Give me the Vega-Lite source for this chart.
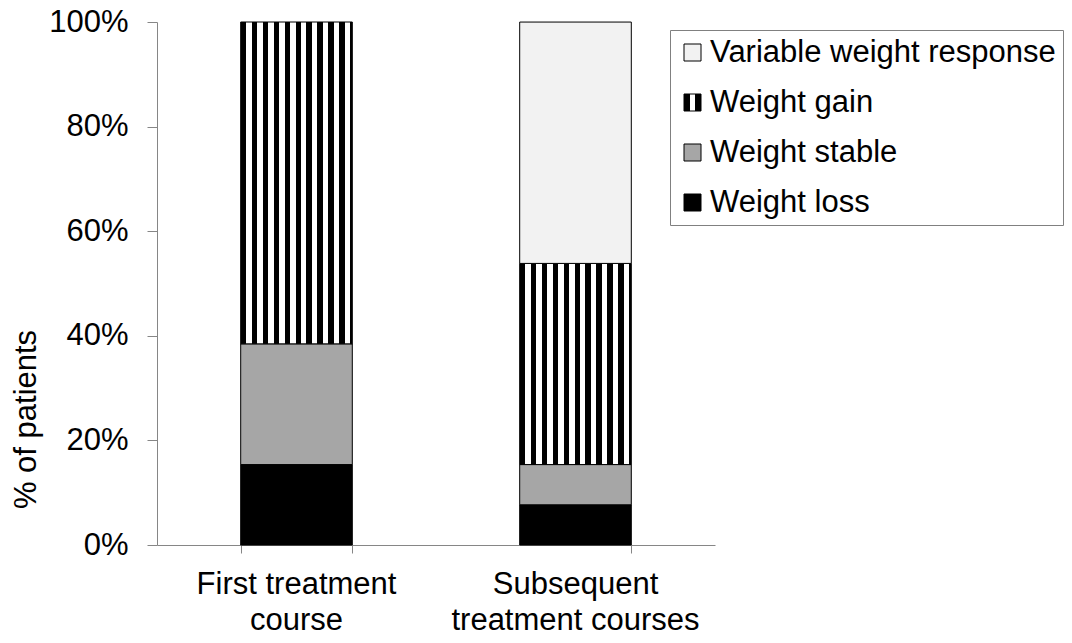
{
  "$schema": "https://vega.github.io/schema/vega-lite/v6.json",
  "width": 558,
  "height": 523,
  "autosize": "none",
  "padding": {"left": 157, "top": 22, "right": 357, "bottom": 98},
  "background": "white",
  "config": {
    "view": {"stroke": null},
    "font": "Liberation Sans",
    "axis": {"labelColor": "black", "titleColor": "black", "domainColor": "#868686", "tickColor": "#868686", "grid": false, "labelFont": "Liberation Sans", "titleFont": "Liberation Sans"},
    "legend": {"labelFont": "Liberation Sans", "labelColor": "black"}
  },
  "data": {
    "values": [
      {"course": "First treatment course", "category": "Weight loss", "rank": 1, "share": 0.1538},
      {"course": "First treatment course", "category": "Weight stable", "rank": 2, "share": 0.2308},
      {"course": "First treatment course", "category": "Weight gain", "rank": 3, "share": 0.6154},
      {"course": "Subsequent treatment courses", "category": "Weight loss", "rank": 1, "share": 0.0769},
      {"course": "Subsequent treatment courses", "category": "Weight stable", "rank": 2, "share": 0.0769},
      {"course": "Subsequent treatment courses", "category": "Weight gain", "rank": 3, "share": 0.3846},
      {"course": "Subsequent treatment courses", "category": "Variable weight response", "rank": 4, "share": 0.4615}
    ]
  },
  "layer": [
    {
      "mark": {"type": "bar", "strokeWidth": 1},
      "encoding": {
        "x": {
          "field": "course", "type": "nominal", "sort": null,
          "scale": {"paddingInner": 0.6, "paddingOuter": 0.3},
          "axis": {
            "title": null, "labelAngle": 0, "ticks": false, "domain": false, "labelLimit": 400,
            "labelFontSize": 31, "labelLineHeight": 36, "labelPadding": 24, "labelBaseline": "top",
            "labelExpr": "datum.label == 'First treatment course' ? ['First treatment', 'course'] : ['Subsequent', 'treatment courses']"
          }
        },
        "y": {
          "field": "share", "type": "quantitative", "stack": "zero",
          "scale": {"domain": [0, 1], "nice": false},
          "axis": {
            "title": "% of patients", "titleFontSize": 31, "titleFontWeight": "normal",
            "titleX": -131, "titleY": 397, "titleAngle": 270, "titleAlign": "center", "titleBaseline": "middle",
            "values": [0, 0.2, 0.4, 0.6, 0.8, 1], "format": ".0%",
            "tickSize": 10, "labelPadding": 19, "labelFontSize": 31
          }
        },
        "order": {"field": "rank", "type": "quantitative"},
        "fill": {
          "condition": {
            "test": "datum.category === 'Weight gain'",
            "value": {
              "expr": "datum.category === 'Weight gain' ? {gradient: 'linear', x1: 0, x2: 1, y1: 0, y2: 0, stops: [{offset: 0, color: 'black'}, {offset: 0.0491, color: 'black'}, {offset: 0.0491, color: 'white'}, {offset: 0.0982, color: 'white'}, {offset: 0.0982, color: 'black'}, {offset: 0.1473, color: 'black'}, {offset: 0.1473, color: 'white'}, {offset: 0.1964, color: 'white'}, {offset: 0.1964, color: 'black'}, {offset: 0.2455, color: 'black'}, {offset: 0.2455, color: 'white'}, {offset: 0.2946, color: 'white'}, {offset: 0.2946, color: 'black'}, {offset: 0.3438, color: 'black'}, {offset: 0.3438, color: 'white'}, {offset: 0.3929, color: 'white'}, {offset: 0.3929, color: 'black'}, {offset: 0.442, color: 'black'}, {offset: 0.442, color: 'white'}, {offset: 0.4911, color: 'white'}, {offset: 0.4911, color: 'black'}, {offset: 0.5402, color: 'black'}, {offset: 0.5402, color: 'white'}, {offset: 0.5893, color: 'white'}, {offset: 0.5893, color: 'black'}, {offset: 0.6384, color: 'black'}, {offset: 0.6384, color: 'white'}, {offset: 0.6875, color: 'white'}, {offset: 0.6875, color: 'black'}, {offset: 0.7366, color: 'black'}, {offset: 0.7366, color: 'white'}, {offset: 0.7857, color: 'white'}, {offset: 0.7857, color: 'black'}, {offset: 0.8348, color: 'black'}, {offset: 0.8348, color: 'white'}, {offset: 0.8839, color: 'white'}, {offset: 0.8839, color: 'black'}, {offset: 0.933, color: 'black'}, {offset: 0.933, color: 'white'}, {offset: 0.9821, color: 'white'}, {offset: 0.9821, color: 'black'}, {offset: 1, color: 'black'}]} : (datum.value === 'Weight gain' ? {gradient: 'linear', x1: 0, x2: 1, y1: 0, y2: 0, stops: [{offset: 0, color: 'black'}, {offset: 0.36, color: 'black'}, {offset: 0.36, color: 'white'}, {offset: 0.62, color: 'white'}, {offset: 0.62, color: 'black'}, {offset: 1, color: 'black'}]} : scale('fill', datum.value))"
            }
          },
          "field": "category", "type": "nominal",
          "scale": {
            "domain": ["Weight loss", "Weight stable", "Weight gain", "Variable weight response"],
            "range": ["#000000", "#A6A6A6", "#000000", "#F2F2F2"]
          },
          "legend": null
        },
        "stroke": {
          "field": "category", "type": "nominal",
          "scale": {
            "domain": ["Variable weight response", "Weight gain", "Weight stable", "Weight loss"],
            "range": ["#000000", "#000000", "#000000", "#000000"]
          },
          "legend": {
            "title": null, "orient": "none", "legendX": 513, "legendY": 8,
            "strokeColor": "#808080", "fillColor": "white", "padding": 7, "rowPadding": 18,
            "labelFontSize": 31, "labelOffset": 2, "labelLimit": 500,
            "symbolType": "square", "symbolSize": 289, "symbolStrokeWidth": 1,
            "encode": {
              "symbols": {
                "update": {
                  "stroke": {"value": "black"},
                  "strokeWidth": {"value": 1},
                  "fillOpacity": {"value": 1}
                }
              }
            }
          }
        }
      }
    },
    {
      "mark": {"type": "bar", "fillOpacity": 0, "strokeOpacity": 0},
      "encoding": {
        "x": {
          "field": "course", "type": "nominal", "sort": null,
          "axis": {"title": null, "orient": "bottom", "labels": false, "tickBand": "extent", "tickSize": 8, "domain": true}
        },
        "y": {"field": "share", "type": "quantitative", "stack": "zero"}
      }
    }
  ],
  "resolve": {"axis": {"x": "independent"}}
}
